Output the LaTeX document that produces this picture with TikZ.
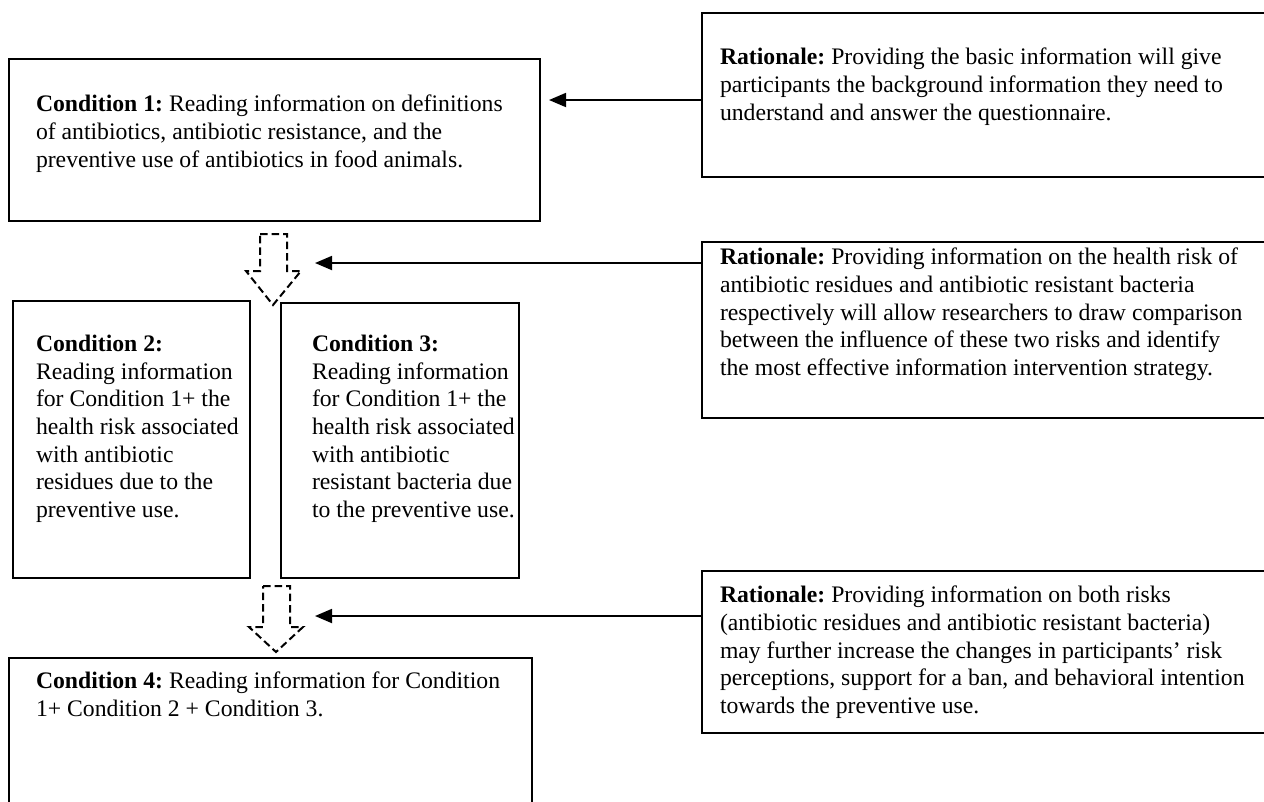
\documentclass[tikz,border=0pt]{standalone}
\usepackage{fontspec}
\setmainfont{Liberation Serif}
\frenchspacing
\usetikzlibrary{arrows.meta}
\tikzset{
  box/.style={draw=black, line width=1.8pt, fill=none, inner sep=0pt, outer sep=0pt, anchor=north west},
  txt/.style={inner sep=0pt, outer sep=0pt, anchor=north west, align=left, font=\fontsize{23.7}{27.7}\selectfont\frenchspacing},
  arr/.style={line width=1.8pt, -{Triangle[length=17pt,width=14pt]}},
  blockarrow/.style={line width=2pt, dash pattern=on 7.5pt off 4pt, line join=miter}
}
\begin{document}
\begin{tikzpicture}[x=1pt,y=-1pt]
\useasboundingbox (0,0) rectangle (1264,801);
\clip (0,0) rectangle (1264,801);
\fill[white] (0,0) rectangle (1264,801);
% boxes
\node[box, minimum width=531pt, minimum height=162pt] (c1) at (9,59) {};
\node[box, minimum width=237pt, minimum height=277pt] (c2) at (13,301) {};
\node[box, minimum width=238pt, minimum height=275pt] (c3) at (281,303) {};
\node[box, minimum width=523pt, minimum height=200pt] (c4) at (9,658) {};
\node[box, minimum width=600pt, minimum height=164pt] (r1) at (702,13) {};
\node[box, minimum width=600pt, minimum height=176pt] (r2) at (702,242) {};
\node[box, minimum width=600pt, minimum height=162pt] (r3) at (702,571) {};
% texts
\node[txt] (c1t) at (36,95) {\textbf{Condition 1:} Reading information on definitions\\of antibiotics, antibiotic resistance, and the\\preventive use of antibiotics in food animals.};
\node[txt] (r1t) at (720,48) {\textbf{Rationale:} Providing the basic information will give\\participants the background information they need to\\understand and answer the questionnaire.};
\node[txt] (r2t) at (720,248) {\textbf{Rationale:} Providing information on the health risk of\\antibiotic residues and antibiotic resistant bacteria\\respectively will allow researchers to draw comparison\\between the influence of these two risks and identify\\the most effective information intervention strategy.};
\node[txt] (c2t) at (36,335) {\textbf{Condition 2:}\\Reading information\\for Condition 1+ the\\health risk associated\\with antibiotic\\residues due to the\\preventive use.};
\node[txt] (c3t) at (312,335) {\textbf{Condition 3:}\\Reading information\\for Condition 1+ the\\health risk associated\\with antibiotic\\resistant bacteria due\\to the preventive use.};
\node[txt] (r3t) at (720,586) {\textbf{Rationale:} Providing information on both risks\\(antibiotic residues and antibiotic resistant bacteria)\\may further increase the changes in participants’ risk\\perceptions, support for a ban, and behavioral intention\\towards the preventive use.};
\node[txt] (c4t) at (36,672) {\textbf{Condition 4:} Reading information for Condition\\1+ Condition 2 + Condition 3.};
% dashed block arrows
\draw[blockarrow] (260,234) -- (287,234) -- (287,271) -- (301,271) -- (273,305) -- (246,271) -- (260,271) -- cycle;
\draw[blockarrow] (263,586) -- (290,586) -- (290,627) -- (303,627) -- (276,652) -- (249,627) -- (263,627) -- cycle;
% connector ends
\coordinate (t1) at (549,100);
\coordinate (t2) at (315,263);
\coordinate (t3) at (315,616);
\draw[arr] (r1.west |- t1) -- (t1);
\draw[arr] (r2.west |- t2) -- (t2);
\draw[arr] (r3.west |- t3) -- (t3);
\end{tikzpicture}
\end{document}
